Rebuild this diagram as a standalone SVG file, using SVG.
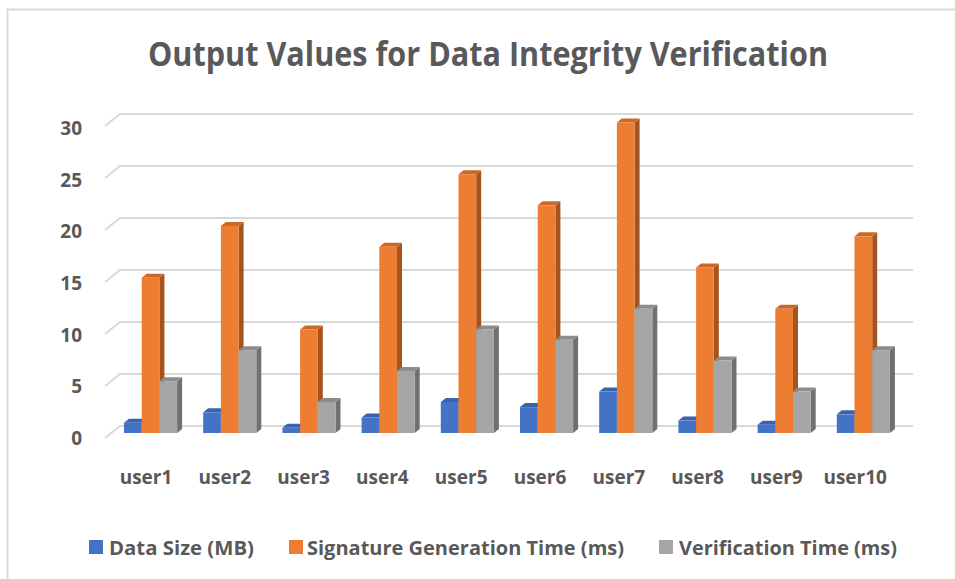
<svg xmlns="http://www.w3.org/2000/svg" width="955" height="579" viewBox="0 0 955 579">
<style>
text{font-family:"Open Sans","Liberation Sans",sans-serif;font-weight:bold;fill:#595959}
.ax{font-size:19.5px}
.ya{font-size:19px;text-anchor:end}
.cat{font-size:19px;text-anchor:middle}
.grid{fill:none;stroke:#D9D9D9;stroke-width:1.8}
.bf{fill:#4472C4}.bs{fill:#2F5597}.bt{fill:#3A63AD}
.of{fill:#ED7D31}.os{fill:#A5541E}.ot{fill:#CC6826}
.gf{fill:#A5A5A5}.gs{fill:#707070}.gt{fill:#8C8C8C}
</style>
<rect x="0" y="0" width="955" height="579" fill="#FFFFFF"/>
<rect x="7.5" y="9.5" width="960" height="590" fill="none" stroke="#D9D9D9" stroke-width="2"/>
<g id="title"><text x="488" y="66" font-size="33.5" text-anchor="middle" textLength="680" lengthAdjust="spacingAndGlyphs">Output Values for Data Integrity Verification</text></g>
<g id="gridlines">
<path class="grid" d="M105,438 L120,426 L913,426"/>
<path class="grid" d="M105,386 L120,374 L913,374"/>
<path class="grid" d="M105,334 L120,322 L913,322"/>
<path class="grid" d="M105,282 L120,270 L913,270"/>
<path class="grid" d="M105,230 L120,218 L913,218"/>
<path class="grid" d="M105,178 L120,166 L913,166"/>
<path class="grid" d="M105,126 L120,114 L913,114"/>
</g>
<g id="y-axis">
<text class="ya" x="82" y="445">0</text>
<text class="ya" x="82" y="393.3">5</text>
<text class="ya" x="82" y="341.7">10</text>
<text class="ya" x="82" y="290">15</text>
<text class="ya" x="82" y="238.3">20</text>
<text class="ya" x="82" y="186.7">25</text>
<text class="ya" x="82" y="135">30</text>
</g>
<g id="bars">
<g id="user1-bars">
<g transform="translate(124,433)"><polygon class="bs" points="17.7,-10.35 22.7,-14.35 22.7,-4 17.7,0"/><polygon class="bt" points="0,-10.35 5,-14.35 22.7,-14.35 17.7,-10.35"/><rect class="bf" x="0" y="-10.35" width="17.7" height="10.35"/></g>
<g transform="translate(141.7,433)"><polygon class="os" points="17.7,-155.25 22.7,-159.25 22.7,-4 17.7,0"/><polygon class="ot" points="0,-155.25 5,-159.25 22.7,-159.25 17.7,-155.25"/><rect class="of" x="0" y="-155.25" width="17.7" height="155.25"/></g>
<g transform="translate(159.4,433)"><polygon class="gs" points="17.7,-51.75 22.7,-55.75 22.7,-4 17.7,0"/><polygon class="gt" points="0,-51.75 5,-55.75 22.7,-55.75 17.7,-51.75"/><rect class="gf" x="0" y="-51.75" width="17.7" height="51.75"/></g>
</g>
<g id="user2-bars">
<g transform="translate(203.2,433)"><polygon class="bs" points="17.7,-20.7 22.7,-24.7 22.7,-4 17.7,0"/><polygon class="bt" points="0,-20.7 5,-24.7 22.7,-24.7 17.7,-20.7"/><rect class="bf" x="0" y="-20.7" width="17.7" height="20.7"/></g>
<g transform="translate(220.9,433)"><polygon class="os" points="17.7,-207 22.7,-211 22.7,-4 17.7,0"/><polygon class="ot" points="0,-207 5,-211 22.7,-211 17.7,-207"/><rect class="of" x="0" y="-207" width="17.7" height="207"/></g>
<g transform="translate(238.6,433)"><polygon class="gs" points="17.7,-82.8 22.7,-86.8 22.7,-4 17.7,0"/><polygon class="gt" points="0,-82.8 5,-86.8 22.7,-86.8 17.7,-82.8"/><rect class="gf" x="0" y="-82.8" width="17.7" height="82.8"/></g>
</g>
<g id="user3-bars">
<g transform="translate(282.4,433)"><polygon class="bs" points="17.7,-5.18 22.7,-9.18 22.7,-4 17.7,0"/><polygon class="bt" points="0,-5.18 5,-9.18 22.7,-9.18 17.7,-5.18"/><rect class="bf" x="0" y="-5.18" width="17.7" height="5.18"/></g>
<g transform="translate(300.1,433)"><polygon class="os" points="17.7,-103.5 22.7,-107.5 22.7,-4 17.7,0"/><polygon class="ot" points="0,-103.5 5,-107.5 22.7,-107.5 17.7,-103.5"/><rect class="of" x="0" y="-103.5" width="17.7" height="103.5"/></g>
<g transform="translate(317.8,433)"><polygon class="gs" points="17.7,-31.05 22.7,-35.05 22.7,-4 17.7,0"/><polygon class="gt" points="0,-31.05 5,-35.05 22.7,-35.05 17.7,-31.05"/><rect class="gf" x="0" y="-31.05" width="17.7" height="31.05"/></g>
</g>
<g id="user4-bars">
<g transform="translate(361.6,433)"><polygon class="bs" points="17.7,-15.53 22.7,-19.53 22.7,-4 17.7,0"/><polygon class="bt" points="0,-15.53 5,-19.53 22.7,-19.53 17.7,-15.53"/><rect class="bf" x="0" y="-15.53" width="17.7" height="15.53"/></g>
<g transform="translate(379.3,433)"><polygon class="os" points="17.7,-186.3 22.7,-190.3 22.7,-4 17.7,0"/><polygon class="ot" points="0,-186.3 5,-190.3 22.7,-190.3 17.7,-186.3"/><rect class="of" x="0" y="-186.3" width="17.7" height="186.3"/></g>
<g transform="translate(397,433)"><polygon class="gs" points="17.7,-62.1 22.7,-66.1 22.7,-4 17.7,0"/><polygon class="gt" points="0,-62.1 5,-66.1 22.7,-66.1 17.7,-62.1"/><rect class="gf" x="0" y="-62.1" width="17.7" height="62.1"/></g>
</g>
<g id="user5-bars">
<g transform="translate(440.8,433)"><polygon class="bs" points="17.7,-31.05 22.7,-35.05 22.7,-4 17.7,0"/><polygon class="bt" points="0,-31.05 5,-35.05 22.7,-35.05 17.7,-31.05"/><rect class="bf" x="0" y="-31.05" width="17.7" height="31.05"/></g>
<g transform="translate(458.5,433)"><polygon class="os" points="17.7,-258.75 22.7,-262.75 22.7,-4 17.7,0"/><polygon class="ot" points="0,-258.75 5,-262.75 22.7,-262.75 17.7,-258.75"/><rect class="of" x="0" y="-258.75" width="17.7" height="258.75"/></g>
<g transform="translate(476.2,433)"><polygon class="gs" points="17.7,-103.5 22.7,-107.5 22.7,-4 17.7,0"/><polygon class="gt" points="0,-103.5 5,-107.5 22.7,-107.5 17.7,-103.5"/><rect class="gf" x="0" y="-103.5" width="17.7" height="103.5"/></g>
</g>
<g id="user6-bars">
<g transform="translate(520,433)"><polygon class="bs" points="17.7,-25.88 22.7,-29.88 22.7,-4 17.7,0"/><polygon class="bt" points="0,-25.88 5,-29.88 22.7,-29.88 17.7,-25.88"/><rect class="bf" x="0" y="-25.88" width="17.7" height="25.88"/></g>
<g transform="translate(537.7,433)"><polygon class="os" points="17.7,-227.7 22.7,-231.7 22.7,-4 17.7,0"/><polygon class="ot" points="0,-227.7 5,-231.7 22.7,-231.7 17.7,-227.7"/><rect class="of" x="0" y="-227.7" width="17.7" height="227.7"/></g>
<g transform="translate(555.4,433)"><polygon class="gs" points="17.7,-93.15 22.7,-97.15 22.7,-4 17.7,0"/><polygon class="gt" points="0,-93.15 5,-97.15 22.7,-97.15 17.7,-93.15"/><rect class="gf" x="0" y="-93.15" width="17.7" height="93.15"/></g>
</g>
<g id="user7-bars">
<g transform="translate(599.2,433)"><polygon class="bs" points="17.7,-41.4 22.7,-45.4 22.7,-4 17.7,0"/><polygon class="bt" points="0,-41.4 5,-45.4 22.7,-45.4 17.7,-41.4"/><rect class="bf" x="0" y="-41.4" width="17.7" height="41.4"/></g>
<g transform="translate(616.9,433)"><polygon class="os" points="17.7,-310.5 22.7,-314.5 22.7,-4 17.7,0"/><polygon class="ot" points="0,-310.5 5,-314.5 22.7,-314.5 17.7,-310.5"/><rect class="of" x="0" y="-310.5" width="17.7" height="310.5"/></g>
<g transform="translate(634.6,433)"><polygon class="gs" points="17.7,-124.2 22.7,-128.2 22.7,-4 17.7,0"/><polygon class="gt" points="0,-124.2 5,-128.2 22.7,-128.2 17.7,-124.2"/><rect class="gf" x="0" y="-124.2" width="17.7" height="124.2"/></g>
</g>
<g id="user8-bars">
<g transform="translate(678.4,433)"><polygon class="bs" points="17.7,-12.42 22.7,-16.42 22.7,-4 17.7,0"/><polygon class="bt" points="0,-12.42 5,-16.42 22.7,-16.42 17.7,-12.42"/><rect class="bf" x="0" y="-12.42" width="17.7" height="12.42"/></g>
<g transform="translate(696.1,433)"><polygon class="os" points="17.7,-165.6 22.7,-169.6 22.7,-4 17.7,0"/><polygon class="ot" points="0,-165.6 5,-169.6 22.7,-169.6 17.7,-165.6"/><rect class="of" x="0" y="-165.6" width="17.7" height="165.6"/></g>
<g transform="translate(713.8,433)"><polygon class="gs" points="17.7,-72.45 22.7,-76.45 22.7,-4 17.7,0"/><polygon class="gt" points="0,-72.45 5,-76.45 22.7,-76.45 17.7,-72.45"/><rect class="gf" x="0" y="-72.45" width="17.7" height="72.45"/></g>
</g>
<g id="user9-bars">
<g transform="translate(757.6,433)"><polygon class="bs" points="17.7,-8.28 22.7,-12.28 22.7,-4 17.7,0"/><polygon class="bt" points="0,-8.28 5,-12.28 22.7,-12.28 17.7,-8.28"/><rect class="bf" x="0" y="-8.28" width="17.7" height="8.28"/></g>
<g transform="translate(775.3,433)"><polygon class="os" points="17.7,-124.2 22.7,-128.2 22.7,-4 17.7,0"/><polygon class="ot" points="0,-124.2 5,-128.2 22.7,-128.2 17.7,-124.2"/><rect class="of" x="0" y="-124.2" width="17.7" height="124.2"/></g>
<g transform="translate(793,433)"><polygon class="gs" points="17.7,-41.4 22.7,-45.4 22.7,-4 17.7,0"/><polygon class="gt" points="0,-41.4 5,-45.4 22.7,-45.4 17.7,-41.4"/><rect class="gf" x="0" y="-41.4" width="17.7" height="41.4"/></g>
</g>
<g id="user10-bars">
<g transform="translate(836.8,433)"><polygon class="bs" points="17.7,-18.63 22.7,-22.63 22.7,-4 17.7,0"/><polygon class="bt" points="0,-18.63 5,-22.63 22.7,-22.63 17.7,-18.63"/><rect class="bf" x="0" y="-18.63" width="17.7" height="18.63"/></g>
<g transform="translate(854.5,433)"><polygon class="os" points="17.7,-196.65 22.7,-200.65 22.7,-4 17.7,0"/><polygon class="ot" points="0,-196.65 5,-200.65 22.7,-200.65 17.7,-196.65"/><rect class="of" x="0" y="-196.65" width="17.7" height="196.65"/></g>
<g transform="translate(872.2,433)"><polygon class="gs" points="17.7,-82.8 22.7,-86.8 22.7,-4 17.7,0"/><polygon class="gt" points="0,-82.8 5,-86.8 22.7,-86.8 17.7,-82.8"/><rect class="gf" x="0" y="-82.8" width="17.7" height="82.8"/></g>
</g>
</g>
<g id="x-axis">
<text class="cat" x="146" y="484">user1</text>
<text class="cat" x="224.8" y="484">user2</text>
<text class="cat" x="303.6" y="484">user3</text>
<text class="cat" x="382.4" y="484">user4</text>
<text class="cat" x="461.2" y="484">user5</text>
<text class="cat" x="540" y="484">user6</text>
<text class="cat" x="618.8" y="484">user7</text>
<text class="cat" x="697.6" y="484">user8</text>
<text class="cat" x="776.4" y="484">user9</text>
<text class="cat" x="855.2" y="484">user10</text>
</g>
<g id="legend">
<rect x="89" y="540" width="14" height="14" fill="#4472C4"/>
<text class="ax" x="109" y="555" textLength="145" lengthAdjust="spacingAndGlyphs">Data Size (MB)</text>
<rect x="289" y="540" width="14" height="14" fill="#ED7D31"/>
<text class="ax" x="307" y="555" textLength="317" lengthAdjust="spacingAndGlyphs">Signature Generation Time (ms)</text>
<rect x="659" y="540" width="14" height="14" fill="#A5A5A5"/>
<text class="ax" x="679" y="555" textLength="218" lengthAdjust="spacingAndGlyphs">Verification Time (ms)</text>
</g>
</svg>
